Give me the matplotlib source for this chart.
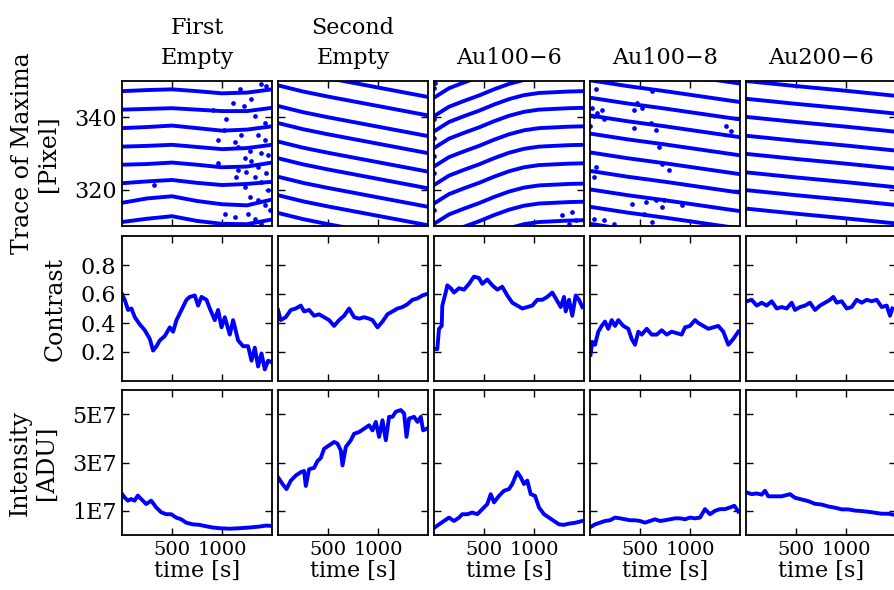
import matplotlib.pyplot as plt
import numpy as np

plt.rcParams['font.family'] = 'DejaVu Serif'
plt.rcParams['font.size'] = 15

samples = ['First\nEmpty', 'Second\nEmpty', 'Au100\u22126', 'Au100\u22128', 'Au200\u22126']

# ---- row 1: traces of the maxima (pixel position vs time) ----
trace_first_t = [0, 250, 500, 750, 1000, 1250, 1500]
trace_first = [
    [347.2, 347.5, 347.7, 347.2, 346.6, 346.8, 347.7],
    [342.1, 342.3, 342.5, 342.1, 341.7, 341.7, 342.6],
    [337.0, 337.3, 337.7, 337.0, 336.3, 336.6, 337.5],
    [331.9, 332.1, 332.4, 331.8, 331.2, 331.5, 332.4],
    [326.9, 327.1, 327.5, 326.9, 326.2, 326.4, 327.5],
    [321.8, 322.3, 322.7, 321.9, 321.3, 321.6, 322.2],
    [316.4, 317.6, 318.2, 316.9, 316.0, 315.7, 317.3],
    [311.1, 312.0, 312.7, 311.4, 310.6, 310.5, 311.8],
]
scatter_first_t = [1177, 1293, 1393, 1443, 1110, 1220, 1043, 1327, 1427, 960, 1020, 1193,
                   1360, 1427, 1127, 1160, 1277, 1393, 1460, 1227, 1293, 1160, 1243, 1360,
                   1443, 1143, 1327, 1393, 1227, 1460, 1277, 1360, 1427, 1027, 1127, 1260,
                   1327, 1393, 1477, 320, 910, 960]
scatter_first_v = [347.7, 344.9, 349.1, 348.6, 344.0, 343.1, 339.4, 340.3, 338.4, 333.8, 336.6, 335.2,
                   335.2, 333.8, 333.3, 331.9, 330.6, 330.1, 329.6, 328.7, 327.8, 325.5, 325.0, 326.4,
                   324.5, 323.6, 323.6, 322.2, 320.8, 319.9, 318.1, 317.1, 315.7, 313.4, 312.5, 313.4,
                   312.0, 310.6, 314.4, 321.3, 342.1, 327.3]

trace_second_t = [0, 250, 500, 750, 1000, 1250, 1500]
trace_second = [
    [353.9, 352.2, 350.8, 349.5, 348.2, 346.9, 345.6],
    [348.8, 347.1, 345.7, 344.4, 343.1, 341.8, 340.5],
    [343.1, 341.4, 340.0, 338.7, 337.4, 336.1, 334.8],
    [338.4, 336.7, 335.3, 334.0, 332.7, 331.4, 330.1],
    [333.3, 331.6, 330.2, 328.9, 327.6, 326.3, 325.0],
    [328.7, 327.0, 325.6, 324.3, 323.0, 321.7, 320.4],
    [323.6, 321.9, 320.5, 319.2, 317.9, 316.6, 315.3],
    [318.5, 316.8, 315.4, 314.1, 312.8, 311.5, 310.2],
    [313.6, 311.9, 310.5, 309.2, 307.9, 306.6, 305.3],
]

trace_au1006_t = [0, 150, 300, 450, 600, 750, 900, 1050, 1200, 1350, 1500]
trace_au1006 = [
    [345.4, 348.0, 349.6, 351.1, 352.8, 354.3, 355.4, 356.0, 356.2, 356.4, 356.5],
    [340.3, 342.9, 344.5, 346.0, 347.7, 349.2, 350.3, 350.9, 351.1, 351.3, 351.4],
    [336.1, 338.7, 340.3, 341.8, 343.5, 345.0, 346.1, 346.7, 346.9, 347.1, 347.2],
    [331.5, 334.1, 335.7, 337.2, 338.9, 340.4, 341.5, 342.1, 342.3, 342.5, 342.6],
    [326.4, 329.0, 330.6, 332.1, 333.8, 335.3, 336.4, 337.0, 337.2, 337.4, 337.5],
    [321.3, 323.9, 325.5, 327.0, 328.7, 330.2, 331.3, 331.9, 332.1, 332.3, 332.4],
    [316.2, 318.8, 320.4, 321.9, 323.6, 325.1, 326.2, 326.8, 327.0, 327.2, 327.3],
    [310.6, 313.2, 314.8, 316.3, 318.0, 319.5, 320.6, 321.2, 321.4, 321.6, 321.7],
    [305.6, 308.2, 309.8, 311.3, 313.0, 314.5, 315.6, 316.2, 316.4, 316.6, 316.7],
    [300.5, 303.1, 304.7, 306.2, 307.9, 309.4, 310.5, 311.1, 311.3, 311.5, 311.6],
]
scatter_au1006_t = [1283, 1383, 1417, 1350, 0, 0, 0, 0, 0, 0, 5]
scatter_au1006_v = [313.0, 313.9, 311.6, 310.6, 348.1, 339.4, 334.3, 329.2, 324.5, 314.4, 349.5]

trace_au1008_t = [0, 375, 750, 1125, 1500]
trace_au1008 = [
    [355.3, 353.7, 352.3, 350.8, 349.3],
    [350.2, 348.6, 347.2, 345.7, 344.2],
    [345.4, 343.8, 342.4, 340.9, 339.4],
    [340.5, 338.9, 337.5, 336.0, 334.5],
    [335.5, 333.9, 332.5, 331.0, 329.5],
    [330.3, 328.7, 327.3, 325.8, 324.3],
    [325.2, 323.6, 322.2, 320.7, 319.2],
    [320.1, 318.5, 317.1, 315.6, 314.1],
    [315.3, 313.7, 312.3, 310.8, 309.3],
    [310.6, 309.0, 307.6, 306.1, 304.6],
]
scatter_au1008_t = [57, 123, 40, 73, 140, 440, 473, 523, 623, 657, 607, 440, 690, 723, 790, 423,
                    557, 657, 740, 723, 923, 540, 623, 140, 240, 40, 1357, 1407, 0, 23, 57, 40]
scatter_au1008_v = [347.7, 342.1, 340.3, 341.2, 339.4, 342.1, 344.0, 342.6, 347.2, 336.6, 338.4,
                    337.0, 331.9, 327.1, 325.5, 316.2, 316.7, 317.1, 317.1, 315.3, 315.7, 313.4,
                    311.1, 311.6, 310.6, 312.0, 337.5, 336.1, 337.5, 342.6, 326.4, 323.6]

trace_au2006_t = [0, 500, 1000, 1500]
trace_au2006 = [
    [350.0, 348.6, 347.3, 345.9],
    [345.1, 343.7, 342.4, 341.0],
    [340.1, 338.7, 337.4, 336.0],
    [334.9, 333.5, 332.2, 330.8],
    [329.9, 328.5, 327.2, 325.8],
    [324.8, 323.4, 322.1, 320.7],
    [319.9, 318.5, 317.2, 315.8],
    [314.8, 313.4, 312.1, 310.7],
]

# ---- row 2: contrast ----
contrast_first_t = [0, 27, 61, 94, 128, 178, 228, 278, 311, 345, 378, 428, 478, 511, 545, 595,
                    645, 678, 728, 761, 795, 845, 878, 928, 961, 995, 1028, 1078, 1111, 1161,
                    1211, 1261, 1295, 1328, 1361, 1395, 1428, 1461, 1495]
contrast_first = [0.60, 0.56, 0.49, 0.50, 0.44, 0.39, 0.35, 0.29, 0.21, 0.24, 0.28, 0.31, 0.37,
                  0.34, 0.42, 0.49, 0.56, 0.58, 0.59, 0.52, 0.58, 0.56, 0.50, 0.42, 0.49, 0.37,
                  0.44, 0.32, 0.42, 0.28, 0.24, 0.24, 0.14, 0.23, 0.10, 0.19, 0.08, 0.14, 0.13]

contrast_second_t = [0, 27, 77, 128, 178, 228, 261, 311, 361, 411, 461, 511, 561, 611, 661, 711,
                     761, 811, 861, 911, 945, 995, 1045, 1095, 1145, 1195, 1245, 1295, 1345,
                     1395, 1445, 1488]
contrast_second = [0.49, 0.42, 0.44, 0.49, 0.50, 0.52, 0.48, 0.49, 0.45, 0.46, 0.44, 0.42, 0.38,
                   0.42, 0.45, 0.50, 0.44, 0.43, 0.44, 0.43, 0.42, 0.37, 0.41, 0.46, 0.48, 0.50,
                   0.51, 0.53, 0.56, 0.57, 0.59, 0.60]

contrast_au1006_t = [7, 33, 50, 77, 83, 117, 133, 167, 200, 250, 300, 350, 400, 450, 483, 533,
                     583, 633, 683, 733, 783, 833, 883, 933, 983, 1033, 1083, 1133, 1183, 1217,
                     1267, 1300, 1317, 1350, 1383, 1417, 1450, 1483]
contrast_au1006 = [0.22, 0.22, 0.36, 0.38, 0.52, 0.61, 0.66, 0.64, 0.61, 0.64, 0.63, 0.67, 0.72,
                   0.71, 0.67, 0.70, 0.66, 0.63, 0.65, 0.59, 0.54, 0.52, 0.50, 0.51, 0.52, 0.56,
                   0.56, 0.58, 0.61, 0.57, 0.51, 0.58, 0.48, 0.56, 0.45, 0.59, 0.56, 0.51]

contrast_au1008_t = [5, 22, 50, 83, 117, 150, 183, 217, 250, 283, 333, 383, 417, 450, 483, 517,
                     567, 617, 667, 717, 767, 817, 867, 917, 950, 1000, 1050, 1083, 1133, 1183,
                     1233, 1283, 1333, 1383, 1433, 1483]
contrast_au1008 = [0.18, 0.27, 0.25, 0.34, 0.38, 0.41, 0.36, 0.42, 0.38, 0.42, 0.38, 0.36, 0.29,
                   0.25, 0.34, 0.32, 0.36, 0.32, 0.32, 0.35, 0.32, 0.34, 0.33, 0.32, 0.37, 0.38,
                   0.42, 0.40, 0.38, 0.36, 0.37, 0.38, 0.34, 0.25, 0.29, 0.34]

contrast_au2006_t = [7, 57, 107, 157, 207, 257, 307, 357, 407, 457, 490, 540, 590, 640, 690, 740,
                     790, 840, 873, 907, 957, 1007, 1057, 1107, 1157, 1207, 1257, 1307, 1357,
                     1407, 1440, 1463]
contrast_au2006 = [0.55, 0.56, 0.52, 0.54, 0.52, 0.55, 0.50, 0.51, 0.50, 0.54, 0.49, 0.51, 0.52,
                   0.54, 0.49, 0.52, 0.54, 0.56, 0.58, 0.54, 0.55, 0.50, 0.51, 0.56, 0.54, 0.56,
                   0.55, 0.56, 0.51, 0.52, 0.45, 0.50]

# ---- row 3: intensity [ADU] ----
intensity_first_t = [0, 25, 58, 92, 125, 158, 192, 242, 292, 342, 392, 442, 492, 542, 592, 642,
                     708, 775, 842, 908, 975, 1075, 1175, 1275, 1375, 1442, 1482]
intensity_first = [1.70e7, 1.56e7, 1.42e7, 1.49e7, 1.42e7, 1.63e7, 1.49e7, 1.28e7, 1.42e7, 1.14e7,
                   0.94e7, 0.86e7, 0.86e7, 0.72e7, 0.65e7, 0.51e7, 0.44e7, 0.42e7, 0.36e7, 0.31e7,
                   0.28e7, 0.26e7, 0.28e7, 0.31e7, 0.35e7, 0.39e7, 0.38e7]

intensity_second_t = [0, 45, 85, 128, 178, 228, 261, 278, 311, 361, 395, 428, 461, 511, 561, 595,
                      628, 645, 678, 728, 761, 811, 861, 911, 945, 978, 1011, 1045, 1078, 1111,
                      1145, 1178, 1228, 1261, 1285, 1311, 1361, 1395, 1428, 1451, 1488]
intensity_second = [2.39e7, 2.11e7, 1.90e7, 2.25e7, 2.46e7, 2.60e7, 2.65e7, 2.03e7, 2.72e7, 2.78e7,
                    3.06e7, 3.19e7, 3.57e7, 3.71e7, 3.85e7, 3.78e7, 3.50e7, 2.88e7, 3.64e7, 3.92e7,
                    4.19e7, 4.26e7, 4.40e7, 4.54e7, 4.33e7, 4.68e7, 4.06e7, 4.75e7, 3.92e7, 4.89e7,
                    4.89e7, 5.10e7, 5.17e7, 5.03e7, 4.06e7, 4.82e7, 4.89e7, 4.68e7, 4.89e7, 4.33e7,
                    4.40e7]

intensity_au1006_t = [7, 50, 100, 150, 200, 250, 283, 333, 383, 433, 483, 533, 567, 600, 650, 700,
                      750, 783, 833, 867, 900, 933, 967, 1010, 1050, 1100, 1150, 1200, 1250, 1300,
                      1350, 1417, 1483]
intensity_au1006 = [0.31e7, 0.44e7, 0.58e7, 0.72e7, 0.58e7, 0.72e7, 0.86e7, 0.86e7, 0.93e7, 0.86e7,
                    1.07e7, 1.28e7, 1.69e7, 1.35e7, 1.62e7, 1.83e7, 1.90e7, 2.11e7, 2.60e7, 2.39e7,
                    2.11e7, 2.25e7, 1.69e7, 1.62e7, 1.14e7, 0.86e7, 0.72e7, 0.58e7, 0.44e7, 0.42e7,
                    0.47e7, 0.51e7, 0.58e7]

intensity_au1008_t = [5, 50, 100, 150, 200, 250, 300, 350, 400, 450, 500, 550, 600, 650, 700, 750,
                      800, 850, 900, 950, 1000, 1050, 1100, 1150, 1200, 1250, 1300, 1350, 1400,
                      1443, 1483]
intensity_au1008 = [0.33e7, 0.44e7, 0.51e7, 0.58e7, 0.61e7, 0.72e7, 0.69e7, 0.65e7, 0.61e7, 0.61e7,
                    0.58e7, 0.51e7, 0.58e7, 0.65e7, 0.58e7, 0.61e7, 0.65e7, 0.69e7, 0.69e7, 0.65e7,
                    0.72e7, 0.69e7, 0.72e7, 1.07e7, 0.86e7, 1.00e7, 1.07e7, 1.07e7, 1.14e7, 1.21e7,
                    0.97e7]

intensity_au2006_t = [7, 57, 107, 157, 190, 223, 290, 357, 440, 490, 557, 623, 690, 757, 823, 890,
                      957, 1023, 1090, 1157, 1223, 1290, 1357, 1423, 1463]
intensity_au2006 = [1.76e7, 1.69e7, 1.72e7, 1.67e7, 1.83e7, 1.60e7, 1.60e7, 1.60e7, 1.69e7, 1.54e7,
                    1.47e7, 1.40e7, 1.29e7, 1.26e7, 1.18e7, 1.13e7, 1.06e7, 1.06e7, 1.01e7, 0.99e7,
                    0.96e7, 0.92e7, 0.88e7, 0.88e7, 0.85e7]

traces = [(trace_first_t, trace_first), (trace_second_t, trace_second),
          (trace_au1006_t, trace_au1006), (trace_au1008_t, trace_au1008),
          (trace_au2006_t, trace_au2006)]
scatters = [(scatter_first_t, scatter_first_v), None,
            (scatter_au1006_t, scatter_au1006_v), (scatter_au1008_t, scatter_au1008_v), None]
contrasts = [(contrast_first_t, contrast_first), (contrast_second_t, contrast_second),
             (contrast_au1006_t, contrast_au1006), (contrast_au1008_t, contrast_au1008),
             (contrast_au2006_t, contrast_au2006)]
intensities = [(intensity_first_t, intensity_first), (intensity_second_t, intensity_second),
               (intensity_au1006_t, intensity_au1006), (intensity_au1008_t, intensity_au1008),
               (intensity_au2006_t, intensity_au2006)]

# layout in pixels of the 894x590 figure
W, H = 894, 590
lefts = [122, 278, 434, 590, 746]
tops = [81, 236, 390]
box_w, box_h = 150, 145

fig = plt.figure(figsize=(W / 100, H / 100), dpi=100)
blue = '#0000ff'

for i in range(3):
    for j in range(5):
        ax = fig.add_axes([lefts[j] / W, 1 - (tops[i] + box_h) / H, box_w / W, box_h / H])
        if i == 0:
            t, tr = traces[j]
            for line in tr:
                ax.plot(t, line, color=blue, lw=2.8, solid_capstyle='round')
            if scatters[j] is not None:
                ax.plot(scatters[j][0], scatters[j][1], 'o', color=blue, ms=3.4, mew=0)
            ax.set_ylim(310, 350)
            ax.set_yticks([320, 340])
            ax.set_title(samples[j], pad=12, linespacing=1.5, fontsize=16)
        elif i == 1:
            t, v = contrasts[j]
            ax.plot(t, v, color=blue, lw=2.8)
            ax.set_ylim(0, 1)
            ax.set_yticks([0.2, 0.4, 0.6, 0.8])
            ax.set_yticklabels(['0.2', '0.4', '0.6', '0.8'])
        else:
            t, v = intensities[j]
            ax.plot(t, v, color=blue, lw=2.8)
            ax.set_ylim(0, 6e7)
            ax.set_yticks([1e7, 3e7, 5e7])
            ax.set_yticklabels(['1E7', '3E7', '5E7'])
        ax.set_xlim(0, 1500)
        ax.set_xticks([500, 1000])
        ax.tick_params(direction='in', top=True, right=True, length=5, width=1, pad=4)
        ax.tick_params(axis='y', labelsize=16)
        ax.tick_params(axis='x', labelsize=14)
        for sp in ax.spines.values():
            sp.set_linewidth(1.3)
        if i < 2:
            ax.set_xticklabels([])
        else:
            ax.set_xlabel('time [s]', labelpad=1, fontsize=16)
        if j > 0:
            ax.set_yticklabels([])
        else:
            label = ['Trace of Maxima\n[Pixel]', 'Contrast', 'Intensity\n[ADU]'][i]
            ax.set_ylabel(label, labelpad=10, linespacing=1.15, fontsize=17)

fig.savefig('out.png', dpi=100)
